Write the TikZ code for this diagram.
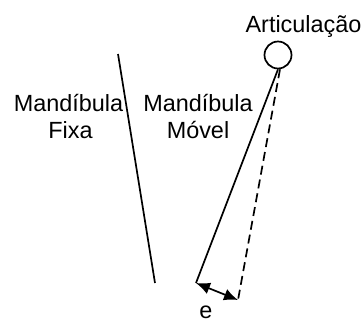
\documentclass[tikz,border=0pt]{standalone}
\usepackage{fontspec}
\setmainfont{Liberation Sans}
\usetikzlibrary{arrows.meta}
\begin{document}
\begin{tikzpicture}[x=1bp,y=-1bp,line width=1.7bp,
  lbl/.style={inner sep=0pt,anchor=base,font=\fontsize{23.5}{27}\selectfont},
  dashline/.style={dash pattern=on 9bp off 5bp},
  gap/.style={{Latex[length=14bp,width=12bp]}-{Latex[length=14bp,width=12bp]}}]
\useasboundingbox (0,0) rectangle (364,323);
% pivot of the movable jaw
\node[circle,draw,minimum size=27bp,inner sep=0pt] (art) at (278,55) {};
\node[lbl] (artlbl) at (303.5,32) {Articulação};
% fixed jaw
\coordinate (fixtop) at (118,54);
\coordinate (fixbot) at (155,283);
\draw (fixtop) -- (fixbot);
% movable jaw: closed (solid) and opened (dashed)
\coordinate (movend) at (196,283);
\coordinate (openend) at (238,300);
\draw (art.south) -- (movend);
\draw[dashline] ([xshift=2bp]art.south) -- (openend);
% opening e
\draw[gap] (movend) -- (openend);
\node[lbl] (elbl) at (206,318) {e};
% labels
\node[lbl] (fix1) at (68.5,111) {Mandíbula};
\node[lbl] (fix2) at (70.5,138) {Fixa};
\node[lbl] (mov1) at (198,111) {Mandíbula};
\node[lbl] (mov2) at (198,138) {Móvel};
\end{tikzpicture}
\end{document}
